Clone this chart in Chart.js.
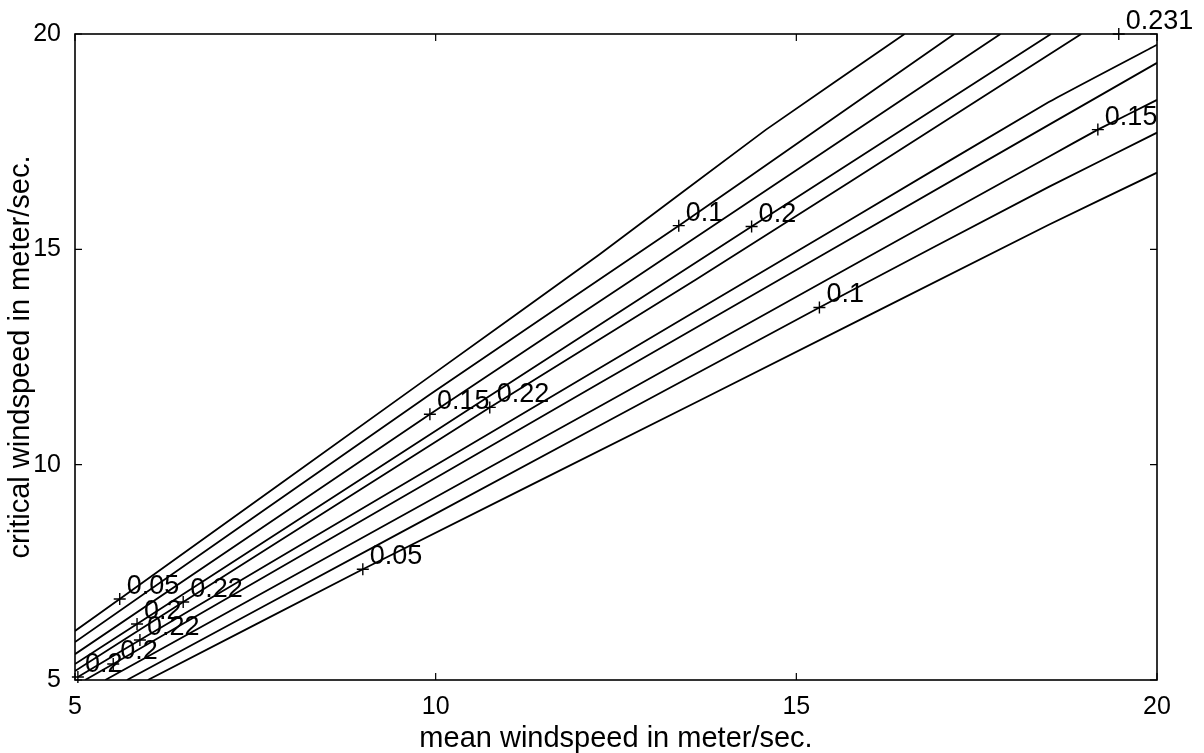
<!DOCTYPE html>
<html>
<head>
<meta charset="utf-8">
<script src="https://cdn.jsdelivr.net/npm/chart.js@4.4.1/dist/chart.umd.min.js"></script>
<style>
  html, body { margin: 0; padding: 0; background: #fff; }
  #myChart { display: block; }
</style>
</head>
<body>
<canvas id="myChart" width="1204" height="753"></canvas>
<script>
  // contour lines, [mean windspeed, critical windspeed]
  // upper branch (steeper lines, left edge -> top edge)
  const up005 = [[5.00, 6.14], [5.62, 6.88], [9.92, 12.05], [12.27, 14.88], [14.58, 17.78], [16.50, 20.00]];
  const up010 = [[5.00, 5.88], [9.92, 11.63], [13.37, 15.55], [15.29, 17.78], [17.19, 20.00]];
  const up015 = [[5.00, 5.60], [9.92, 11.17], [12.73, 14.30], [15.69, 17.61], [17.83, 20.00]];
  const up020 = [[5.00, 5.37], [5.86, 6.30], [14.38, 15.53], [18.53, 20.00]];
  const up022 = [[5.00, 5.21], [6.50, 6.81], [10.75, 11.33], [13.61, 14.30], [15.73, 16.55], [18.95, 20.00]];
  // lower branch (flatter lines, bottom edge -> right edge)
  const lo022 = [[5.04, 5.07], [5.90, 5.93], [10.89, 10.87], [15.73, 15.67], [18.50, 18.42], [20.00, 19.75]];
  const lo020 = [[5.14, 5.00], [5.53, 5.37], [12.27, 11.89], [18.50, 17.89], [20.00, 19.33]];
  const lo015 = [[5.42, 5.00], [12.27, 11.35], [15.73, 14.58], [18.50, 17.15], [19.18, 17.78], [20.00, 18.47]];
  const lo010 = [[5.72, 5.00], [9.50, 8.41], [15.32, 13.65], [18.50, 16.45], [20.00, 17.71]];
  const lo005 = [[6.01, 5.00], [8.99, 7.57], [13.66, 11.49], [18.50, 15.57], [20.00, 16.78]];

  // contour labels: [x, y, text]
  const contourLabels = [
    [5.62, 6.88, '0.05'],
    [13.37, 15.55, '0.1'],
    [9.92, 11.17, '0.15'],
    [14.38, 15.53, '0.2'],
    [5.86, 6.30, '0.2'],
    [10.75, 11.33, '0.22'],
    [6.50, 6.81, '0.22'],
    [19.47, 20.00, '0.231'],
    [5.90, 5.93, '0.22'],
    [5.04, 5.07, '0.2'],
    [5.53, 5.37, '0.2'],
    [19.18, 17.78, '0.15'],
    [15.32, 13.65, '0.1'],
    [8.99, 7.57, '0.05']
  ];

  const tickValues = [5, 10, 15, 20];
  const FONT = '"Liberation Sans", Arial, Helvetica, sans-serif';

  const toPts = arr => arr.map(p => ({x: p[0], y: p[1]}));
  const contours = [up005, up010, up015, up020, up022, lo022, lo020, lo015, lo010, lo005];

  const lineSets = contours.map(c => ({
    data: toPts(c),
    showLine: true,
    borderColor: '#000',
    borderWidth: 1.8,
    pointRadius: 0,
    tension: 0.12,
    fill: false
  }));

  const markerSet = {
    data: contourLabels.map(l => ({x: l[0], y: l[1]})),
    showLine: false,
    pointStyle: 'cross',
    pointRadius: 6,
    borderColor: '#000',
    borderWidth: 1.4,
    clip: false
  };

  // frame box plus MATLAB style inward ticks on all four sides
  const boxTicks = {
    id: 'boxTicks',
    afterDraw(chart) {
      const {ctx, chartArea: a, scales} = chart;
      ctx.save();
      ctx.strokeStyle = '#000';
      ctx.lineWidth = 1.6;
      ctx.strokeRect(a.left, a.top, a.right - a.left, a.bottom - a.top);
      ctx.lineWidth = 1.2;
      ctx.beginPath();
      tickValues.forEach(v => {
        const px = scales.x.getPixelForValue(v);
        const py = scales.y.getPixelForValue(v);
        ctx.moveTo(px, a.bottom); ctx.lineTo(px, a.bottom - 7);
        ctx.moveTo(px, a.top); ctx.lineTo(px, a.top + 7);
        ctx.moveTo(a.left, py); ctx.lineTo(a.left + 7, py);
        ctx.moveTo(a.right, py); ctx.lineTo(a.right - 7, py);
      });
      ctx.stroke();
      ctx.restore();
    }
  };

  // clabel style text next to each marker
  const labelText = {
    id: 'labelText',
    afterDatasetsDraw(chart) {
      const {ctx, scales} = chart;
      ctx.save();
      ctx.fillStyle = '#000';
      ctx.font = '27px ' + FONT;
      ctx.textBaseline = 'alphabetic';
      ctx.textAlign = 'left';
      contourLabels.forEach(l => {
        const px = scales.x.getPixelForValue(l[0]);
        const py = scales.y.getPixelForValue(l[1]);
        ctx.fillText(l[2], px + 7, py - 5);
      });
      ctx.restore();
    }
  };

  new Chart(document.getElementById('myChart'), {
    type: 'scatter',
    data: {datasets: [...lineSets, markerSet]},
    options: {
      responsive: false,
      animation: false,
      events: [],
      layout: {padding: {top: 34, right: 47, left: 0, bottom: 0}},
      plugins: {legend: {display: false}, tooltip: {enabled: false}},
      scales: {
        x: {
          type: 'linear', min: 5, max: 20,
          afterFit: s => { s.height = 73; },
          afterBuildTicks: s => { s.ticks = tickValues.map(v => ({value: v})); },
          grid: {display: false},
          border: {display: false},
          ticks: {color: '#000', font: {family: FONT, size: 25}, padding: 4, maxRotation: 0},
          title: {display: true, text: 'mean windspeed in meter/sec.', color: '#000',
                  font: {family: FONT, size: 29, lineHeight: 1}, padding: 0}
        },
        y: {
          type: 'linear', min: 5, max: 20,
          afterFit: s => { s.width = 75; },
          afterBuildTicks: s => { s.ticks = tickValues.map(v => ({value: v})); },
          grid: {display: false},
          border: {display: false},
          ticks: {color: '#000', font: {family: FONT, size: 25}, padding: 6},
          title: {display: true, text: 'critical windspeed in meter/sec.', color: '#000',
                  font: {family: FONT, size: 29, lineHeight: 1}, padding: {top: 6, bottom: 0}}
        }
      }
    },
    plugins: [boxTicks, labelText]
  });
</script>
</body>
</html>
